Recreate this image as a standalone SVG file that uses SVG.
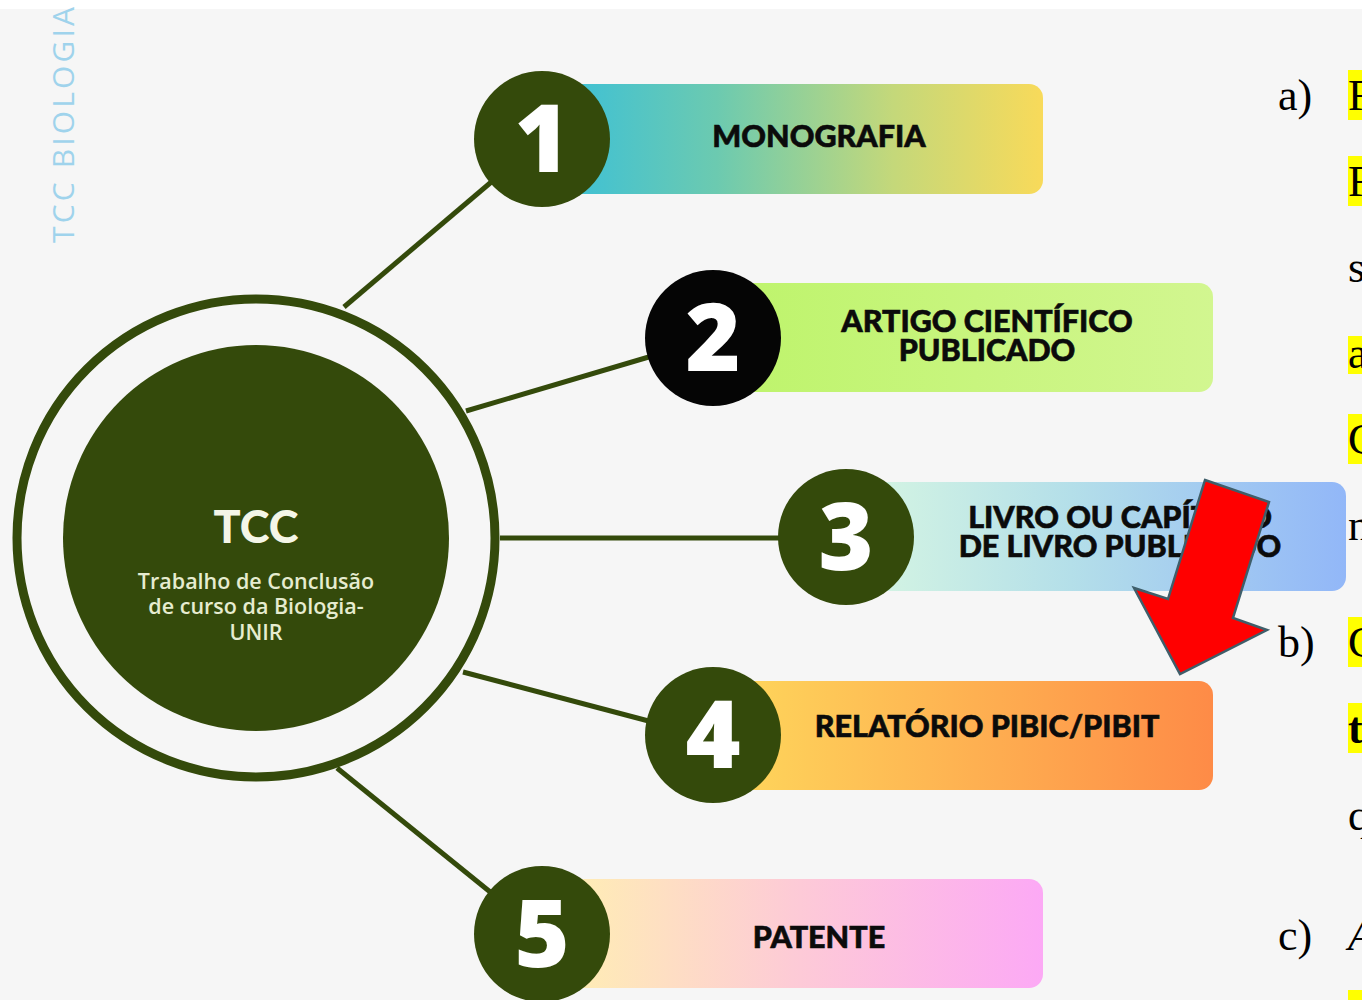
<svg xmlns="http://www.w3.org/2000/svg" width="1362" height="1000" viewBox="0 0 1362 1000">
<defs>
<linearGradient id="g1" x1="0" y1="0" x2="1" y2="0"><stop offset="0" stop-color="#36bfdc"/><stop offset="0.35" stop-color="#6ccab0"/><stop offset="0.7" stop-color="#c4d87a"/><stop offset="1" stop-color="#f8da5a"/></linearGradient>
<linearGradient id="g2" x1="0" y1="0" x2="1" y2="0"><stop offset="0" stop-color="#bdf46a"/><stop offset="1" stop-color="#d2f690"/></linearGradient>
<linearGradient id="g3" x1="0" y1="0" x2="1" y2="0"><stop offset="0" stop-color="#d8f7e2"/><stop offset="0.45" stop-color="#b4dfe9"/><stop offset="1" stop-color="#92b7f8"/></linearGradient>
<linearGradient id="g4" x1="0" y1="0" x2="1" y2="0"><stop offset="0" stop-color="#fed95c"/><stop offset="1" stop-color="#fe8b47"/></linearGradient>
<linearGradient id="g5" x1="0" y1="0" x2="1" y2="0"><stop offset="0" stop-color="#fff2b0"/><stop offset="0.5" stop-color="#fdcbd6"/><stop offset="1" stop-color="#fca9f5"/></linearGradient>
<style>
.box{rx:14px;ry:14px}
.lbl{font-family:"Lato","Open Sans","Liberation Sans",sans-serif;font-weight:900;font-size:30.5px;fill:#0b0b0b;text-anchor:middle;stroke:#0b0b0b;stroke-width:0.6px}
.num{font-family:"Open Sans","Liberation Sans",sans-serif;font-weight:800;font-size:94px;fill:#ffffff;text-anchor:middle}
.nc{fill:#344a0b}
.conn{stroke:#344a0b;stroke-width:5;fill:none}
.tt{font-family:"Liberation Serif","Times New Roman",serif;font-size:44px;fill:#000}
.hl{fill:#ffff00}
</style>
</defs>
<rect x="0" y="0" width="1362" height="1000" fill="#f6f6f6"/>
<rect x="0" y="0" width="1362" height="9" fill="#ffffff"/>
<text transform="translate(74,243) rotate(-90)" x="0" y="0" font-family="Open Sans, Liberation Sans, sans-serif" font-size="30" fill="#9fd3ec" textLength="236" lengthAdjust="spacing">TCC BIOLOGIA</text>

<g id="connectors">
<line class="conn" x1="344" y1="307" x2="542" y2="139"/>
<line class="conn" x1="466" y1="411" x2="713" y2="338"/>
<line class="conn" x1="500" y1="538" x2="846" y2="538"/>
<line class="conn" x1="463" y1="672" x2="713" y2="738"/>
<line class="conn" x1="337" y1="768" x2="542" y2="934"/>
</g>

<g id="tcc">
<circle cx="256" cy="538" r="239" fill="none" stroke="#344a0b" stroke-width="9"/>
<circle cx="256" cy="538" r="193" fill="#344a0b"/>
<text x="256" y="543" font-family="Lato, Open Sans, Liberation Sans, sans-serif" font-weight="900" font-size="45" fill="#f4f6e8" text-anchor="middle">TCC</text>
<g font-family="Open Sans, Liberation Sans, sans-serif" font-weight="600" font-size="21.5" fill="#e6ecd0" text-anchor="middle">
<text x="256" y="589">Trabalho de Conclusão</text>
<text x="256" y="614">de curso da Biologia-</text>
<text x="256" y="640">UNIR</text>
</g>
</g>

<g id="item1">
<rect class="box" x="542" y="84" width="501" height="110" fill="url(#g1)"/>
<circle class="nc" cx="542" cy="139" r="68"/>
<text class="num" x="542" y="172">1</text>
<text class="lbl" x="819" y="147">MONOGRAFIA</text>
</g>

<g id="item2">
<rect class="box" x="713" y="283" width="500" height="109" fill="url(#g2)"/>
<circle cx="713" cy="338" r="68" fill="#050505"/>
<text class="num" x="713" y="371">2</text>
<text class="lbl" x="987" y="332">ARTIGO CIENTÍFICO</text>
<text class="lbl" x="987" y="361">PUBLICADO</text>
</g>

<g id="item3">
<rect class="box" x="846" y="482" width="500" height="109" fill="url(#g3)"/>
<circle class="nc" cx="846" cy="537" r="68"/>
<text class="num" x="846" y="570">3</text>
<text class="lbl" x="1120" y="528">LIVRO OU CAPÍTULO</text>
<text class="lbl" x="1120" y="557">DE LIVRO PUBLICADO</text>
</g>

<g id="item4">
<rect class="box" x="713" y="681" width="500" height="109" fill="url(#g4)"/>
<circle class="nc" cx="713" cy="735" r="68"/>
<text class="num" x="713" y="768">4</text>
<text class="lbl" x="987" y="737">RELATÓRIO PIBIC/PIBIT</text>
</g>

<g id="item5">
<rect class="box" x="542" y="879" width="501" height="109" fill="url(#g5)"/>
<circle class="nc" cx="542" cy="934" r="68"/>
<text class="num" x="542" y="967">5</text>
<text class="lbl" x="819" y="948">PATENTE</text>
</g>

<g id="sidetext">
<rect class="hl" x="1348" y="70" width="14" height="50"/>
<rect class="hl" x="1348" y="156" width="14" height="50"/>
<rect class="hl" x="1348" y="336" width="14" height="38"/>
<rect class="hl" x="1348" y="414" width="14" height="50"/>
<rect class="hl" x="1348" y="617" width="14" height="50"/>
<rect class="hl" x="1348" y="703" width="14" height="50"/>
<rect class="hl" x="1348" y="990" width="14" height="10"/>
<text class="tt" x="1278" y="110">a)</text>
<text class="tt" x="1348" y="110">F</text>
<text class="tt" x="1348" y="196">F</text>
<text class="tt" x="1348" y="282">s</text>
<text class="tt" x="1348" y="368">a</text>
<text class="tt" x="1348" y="454">C</text>
<text class="tt" x="1348" y="540">n</text>
<text class="tt" x="1278" y="657">b)</text>
<text class="tt" x="1348" y="657">C</text>
<text class="tt" x="1348" y="743" font-weight="bold">t</text>
<text class="tt" x="1348" y="830">q</text>
<text class="tt" x="1278" y="950">c)</text>
<text class="tt" x="1348" y="950" font-style="italic">A</text>
</g>

<g id="arrow">
<polygon points="1205,480 1269,502 1233,618 1267,630 1180,674 1134,588 1168,599" fill="#ff0000" stroke="#3f5e6a" stroke-width="2.5" stroke-linejoin="miter"/>
</g>
</svg>
